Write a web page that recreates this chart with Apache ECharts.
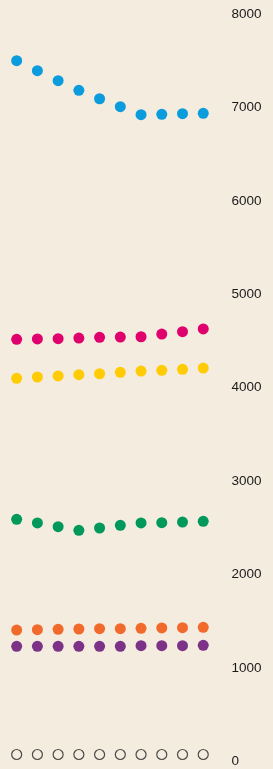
<!DOCTYPE html>
<html>
<head>
<meta charset="utf-8">
<script src="https://cdn.jsdelivr.net/npm/echarts@6/dist/echarts.min.js"></script>
<style>
  html, body { margin: 0; padding: 0; background: #f4ecdf; }
  #chart { width: 273px; height: 769px; }
</style>
</head>
<body>
<div id="chart"></div>
<script>
// 10 time points, no labels shown on the x axis
const categories = ['1', '2', '3', '4', '5', '6', '7', '8', '9', '10']

// series values
const blueValues = [7425, 7318, 7211, 7108, 7018, 6933, 6847, 6851, 6858, 6862]
const magentaValues = [4443, 4447, 4450, 4457, 4465, 4468, 4471, 4500, 4525, 4554]
const yellowValues = [4026, 4040, 4051, 4065, 4075, 4090, 4104, 4112, 4122, 4136]
const greenValues = [2517, 2478, 2438, 2399, 2424, 2453, 2478, 2481, 2488, 2496]
const orangeValues = [1332, 1336, 1340, 1343, 1346, 1346, 1351, 1354, 1357, 1361]
const purpleValues = [1158, 1158, 1158, 1158, 1158, 1158, 1165, 1165, 1165, 1169]
const hollowValues = [0, 0, 0, 0, 0, 0, 0, 0, 0, 0]

// y axis ticks
const yMin = 0
const yMax = 8000
const yStep = 1000

const chart = echarts.init(document.getElementById('chart'))

// 实心圆点系列
const dots = (data, color) => ({
  type: 'scatter',
  data: data,
  symbol: 'circle',
  symbolSize: 11,
  itemStyle: { color: color, opacity: 1 },
  silent: true
})

chart.setOption({
  backgroundColor: '#f4ecdf',
  animation: false,
  grid: { left: 6.3, right: 59.4, top: 7, bottom: 14.5 },
  xAxis: {
    type: 'category',
    data: categories,
    boundaryGap: true,
    axisLine: { show: false },
    axisTick: { show: false },
    axisLabel: { show: false },
    splitLine: { show: false }
  },
  yAxis: {
    type: 'value',
    position: 'right',
    min: yMin,
    max: yMax,
    interval: yStep,
    axisLine: { show: false },
    axisTick: { show: false },
    splitLine: { show: false },
    axisLabel: {
      margin: 18,
      color: '#1a1a1a',
      fontFamily: 'Liberation Sans, Arial, sans-serif',
      fontSize: 13.5,
      verticalAlign: 'top',
      formatter: (v) => String(v)
    }
  },
  series: [
    dots(blueValues, '#0b9cdd'),
    dots(magentaValues, '#e0006d'),
    dots(yellowValues, '#ffcb05'),
    dots(greenValues, '#00995b'),
    dots(orangeValues, '#f26a2b'),
    dots(purpleValues, '#7c3387'),
    {
      type: 'scatter',
      data: hollowValues,
      symbol: 'circle',
      symbolSize: 10,
      itemStyle: { color: 'transparent', borderColor: '#222222', borderWidth: 1.2 },
      silent: true
    }
  ]
})
</script>
</body>
</html>
